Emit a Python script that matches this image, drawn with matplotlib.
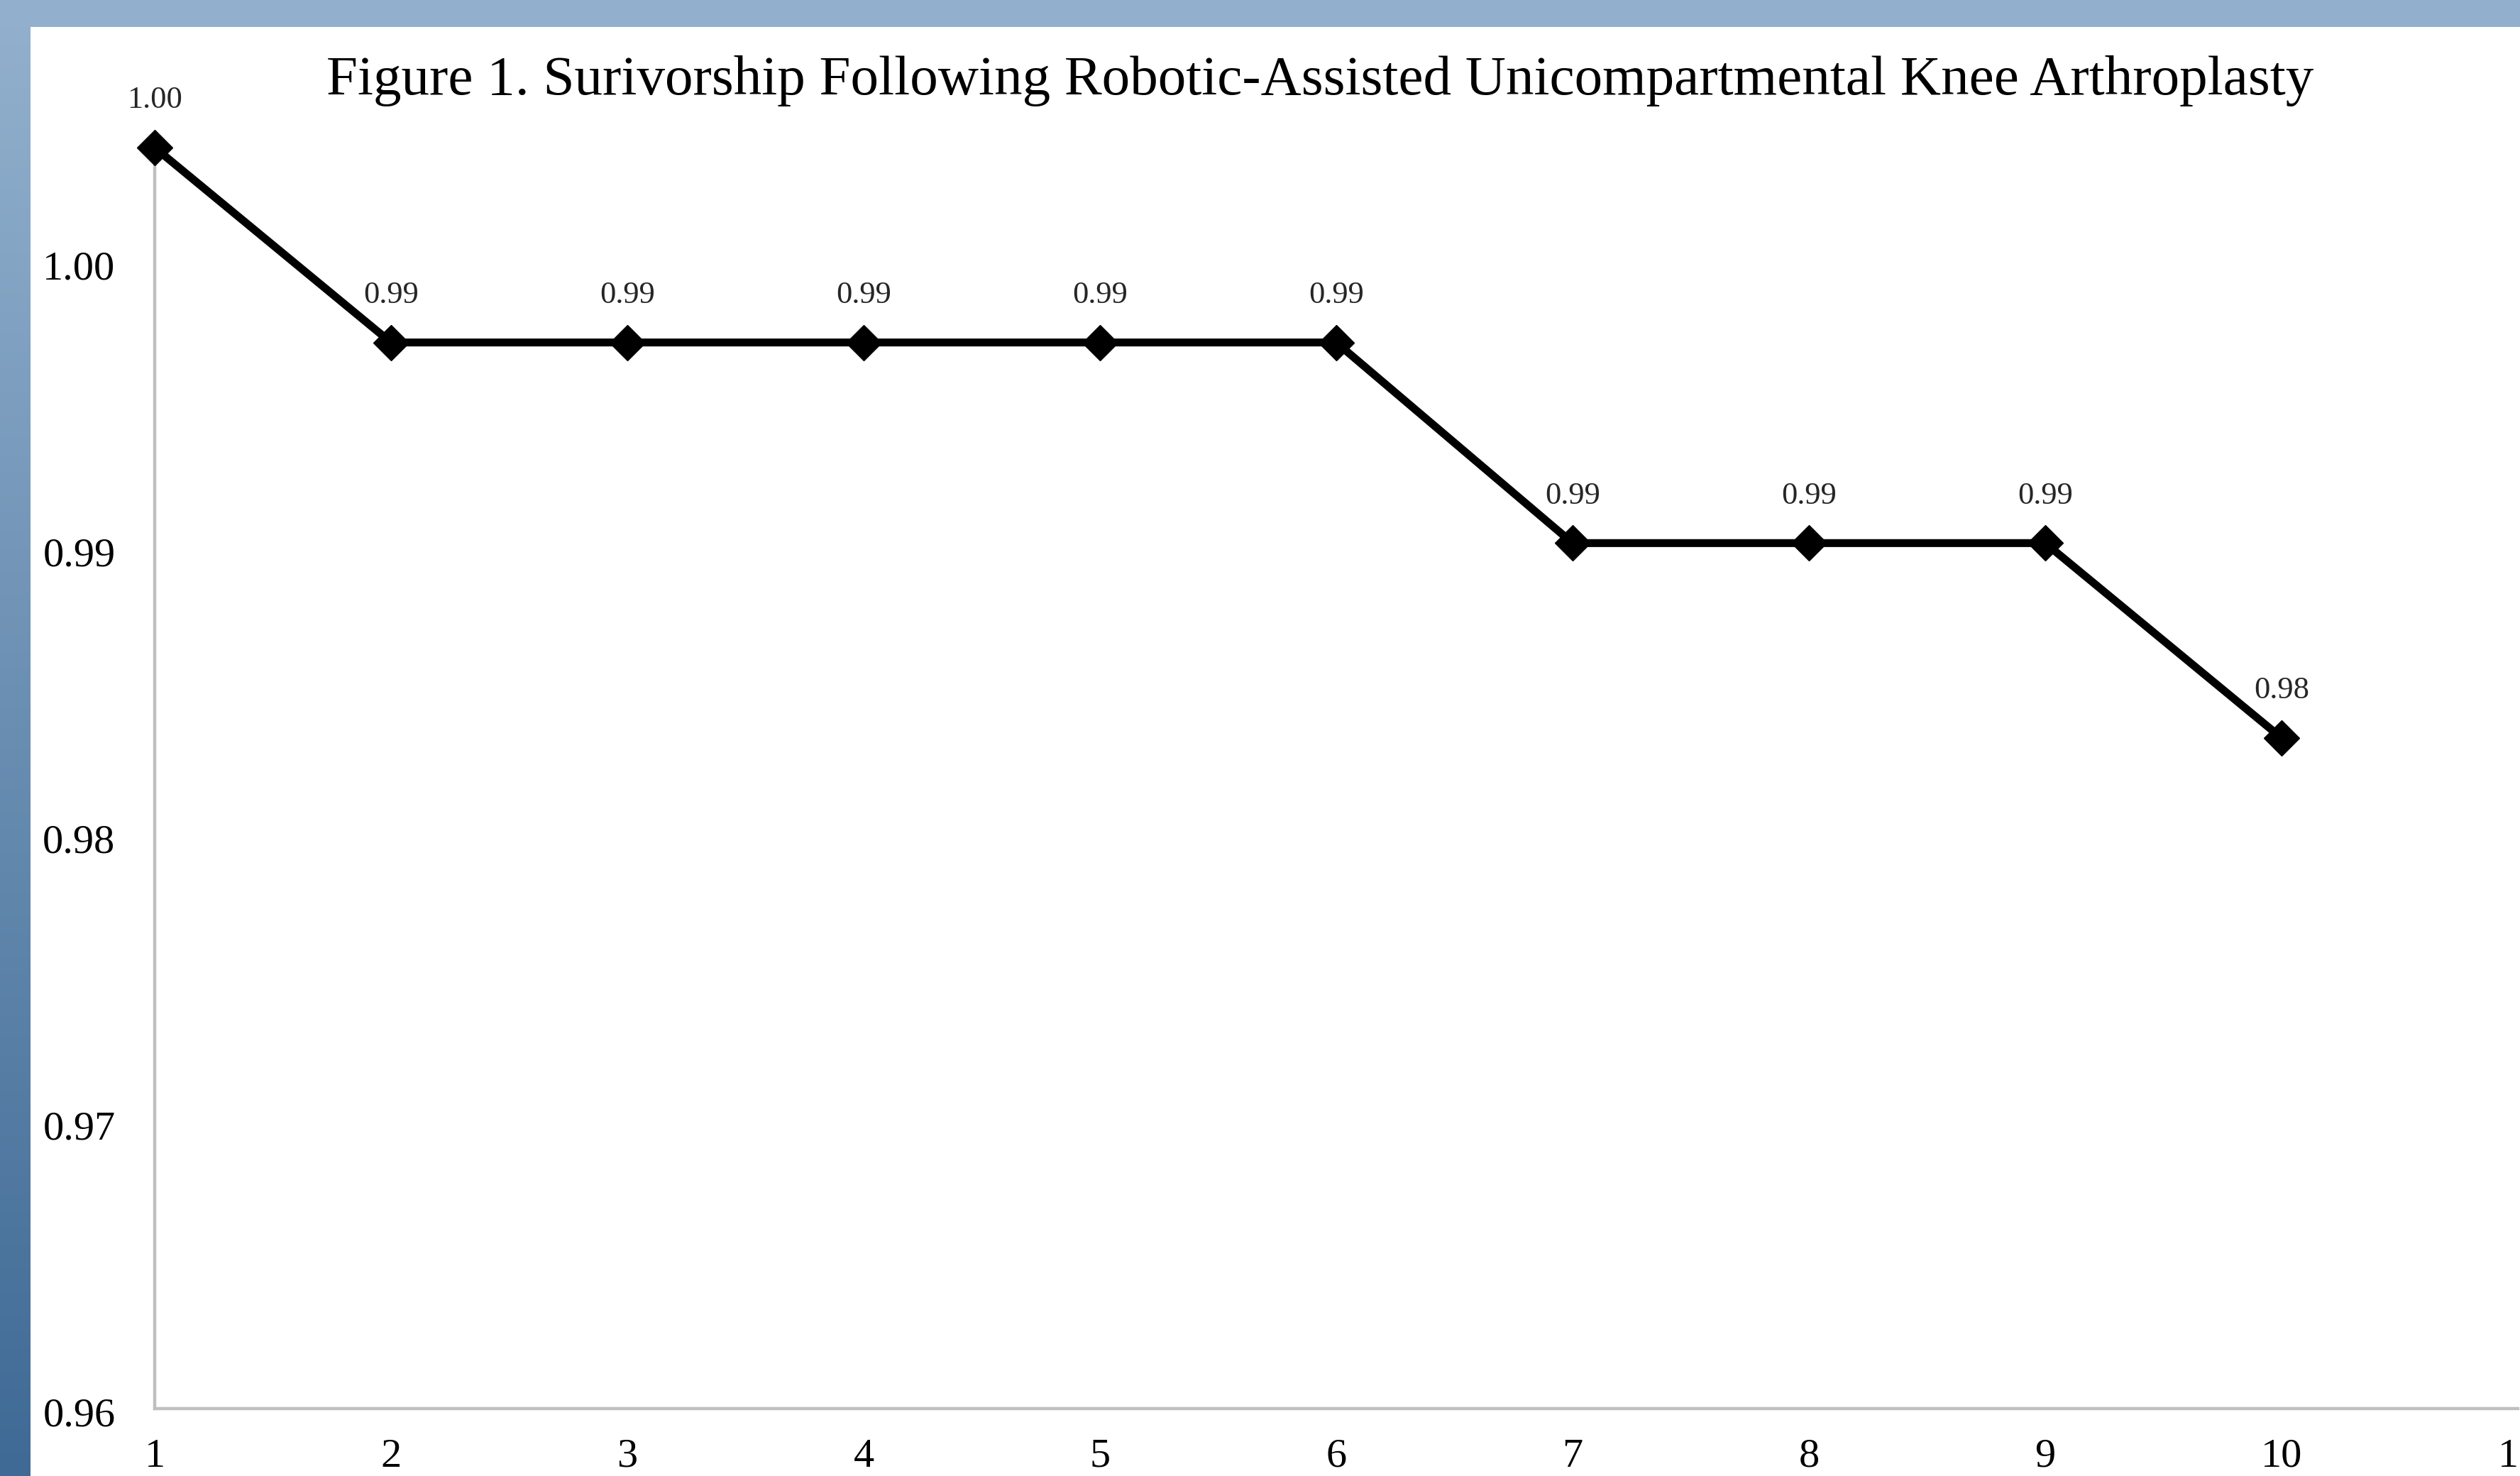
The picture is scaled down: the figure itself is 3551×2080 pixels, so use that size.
import numpy as np
import matplotlib
matplotlib.use("Agg")
import matplotlib.pyplot as plt
import matplotlib.transforms as mtransforms
from matplotlib.patches import Rectangle
from matplotlib.colors import LinearSegmentedColormap

# data
years = [1, 2, 3, 4, 5, 6, 7, 8, 9, 10]
survival = [1.000, 0.9932, 0.9932, 0.9932, 0.9932, 0.9932, 0.9862, 0.9862, 0.9862, 0.9794]
x_ticks = [1, 2, 3, 4, 5, 6, 7, 8, 9, 10, 11]
y_ticks = [0.956, 0.966, 0.976, 0.986, 0.996]
title = "Figure 1. Surivorship Following Robotic-Assisted Unicompartmental Knee Arthroplasty"

W, H = 3551, 2080
plt.rcParams['font.family'] = ['Liberation Serif', 'DejaVu Serif']

fig = plt.figure(figsize=(W / 100, H / 100), dpi=100)

# slide background: blue gradient band on the left and top
bg = fig.add_axes([0, 0, 1, 1])
bg.set_axis_off()
cmap = LinearSegmentedColormap.from_list('slide', ['#93b1ce', '#3f6a95'])
grad = np.linspace(0, 1, 256).reshape(-1, 1)
bg.imshow(grad, cmap=cmap, aspect='auto', extent=[0, 1, 0, 1], origin='upper')
bg.add_patch(Rectangle((0, 1 - 38 / H), 1, 38 / H, facecolor='#92b0cd', edgecolor='none'))
bg.add_patch(Rectangle((43 / W, 0), 1, 1 - 38 / H, facecolor='white', edgecolor='none'))
bg.set_xlim(0, 1)
bg.set_ylim(0, 1)

# plot area in pixels
left, right, top, bottom = 218, 3548, 208, 1985
ax = fig.add_axes([left / W, (H - bottom) / H, (right - left) / W, (bottom - top) / H])
ax.patch.set_alpha(0)

ax.plot(years, survival, color='black', lw=8, marker='D', ms=25, mew=1,
        solid_joinstyle='miter', clip_on=False, zorder=3)

for x, y in zip(years, survival):
    ax.annotate(f"{y:.2f}", (x, y), xytext=(0, 48), textcoords='offset points',
                ha='center', va='center', fontsize=32, color='#262626',
                annotation_clip=False)

ax.set_xlim(1, 11)
ax.set_ylim(0.956, 1.0)
ax.set_xticks(x_ticks)
ax.set_xticklabels([str(t) for t in x_ticks])
ax.set_yticks(y_ticks)
ax.set_yticklabels([f"{t:.2f}" for t in y_ticks])
ax.tick_params(length=0, labelsize=42, colors='black')
ax.tick_params(axis='y', pad=40)
ax.tick_params(axis='x', pad=30)

# nudge y labels down a little
shift = mtransforms.ScaledTranslation(0, -4 / 100, fig.dpi_scale_trans)
for lab in ax.get_yticklabels():
    lab.set_transform(lab.get_transform() + shift)

for s in ['top', 'right']:
    ax.spines[s].set_visible(False)
for s in ['left', 'bottom']:
    ax.spines[s].set_color('#bfbfbf')
    ax.spines[s].set_linewidth(3.2)

fig.text(1860 / W, 1 - 114 / H, title, ha='center', va='center', fontsize=57, color='black')

fig.savefig('out.png', dpi=100)
